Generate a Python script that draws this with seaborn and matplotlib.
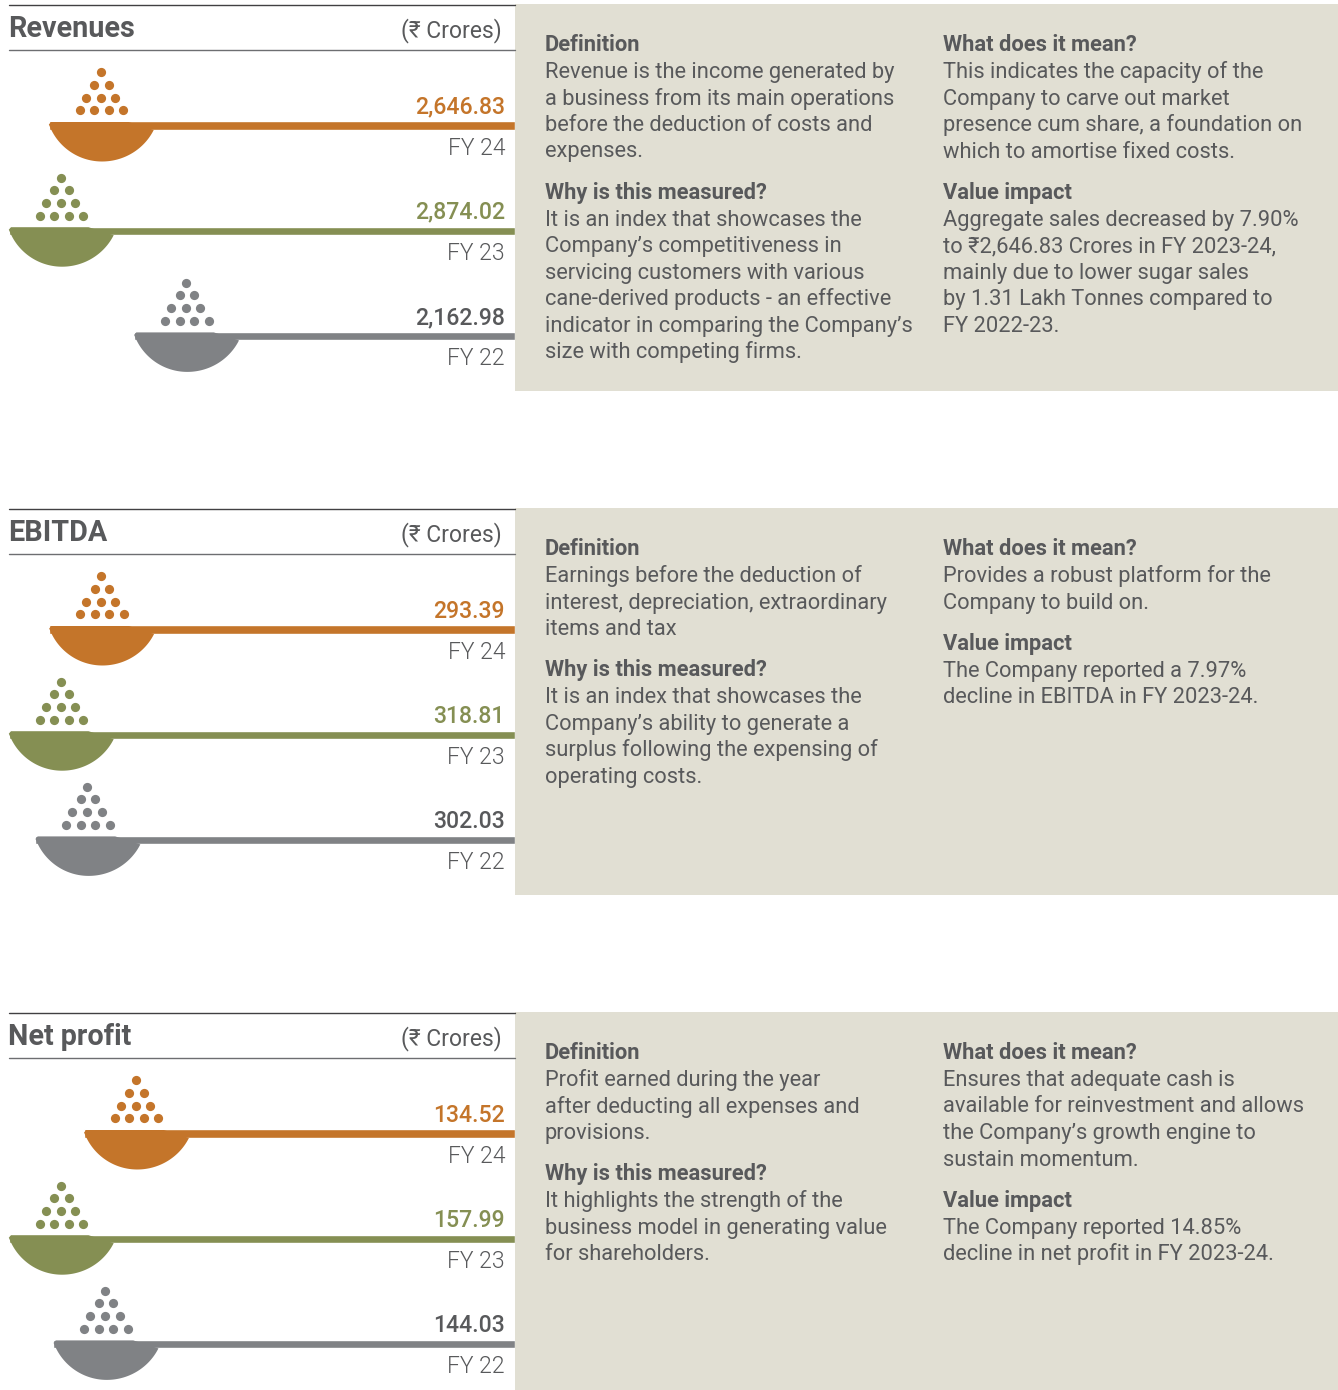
import numpy as np
import pandas as pd
import matplotlib.pyplot as plt
from matplotlib.patches import Polygon, Rectangle
import seaborn as sns

sns.set_style("white")
plt.rcParams['font.family'] = ['Roboto', 'DejaVu Sans']

years = ["FY 24", "FY 23", "FY 22"]
revenues = [2646.83, 2874.02, 2162.98]
ebitda = [293.39, 318.81, 302.03]
net_profit = [134.52, 157.99, 144.03]
revenues_txt = ["2,646.83", "2,874.02", "2,162.98"]
ebitda_txt = ["293.39", "318.81", "302.03"]
net_profit_txt = ["134.52", "157.99", "144.03"]
titles = ["Revenues", "EBITDA", "Net profit"]
unit = "(₹ Crores)"

revenues_left = [
    ("Definition", ["Revenue is the income generated by", "a business from its main operations",
                    "before the deduction of costs and", "expenses."]),
    ("Why is this measured?", ["It is an index that showcases the", "Company’s competitiveness in",
                               "servicing customers with various", "cane-derived products - an effective",
                               "indicator in comparing the Company’s", "size with competing firms."]),
]
revenues_right = [
    ("What does it mean?", ["This indicates the capacity of the", "Company to carve out market",
                            "presence cum share, a foundation on", "which to amortise fixed costs."]),
    ("Value impact", ["Aggregate sales decreased by 7.90%", "to ₹2,646.83 Crores in FY 2023-24,",
                      "mainly due to lower sugar sales", "by 1.31 Lakh Tonnes compared to", "FY 2022-23."]),
]
ebitda_left = [
    ("Definition", ["Earnings before the deduction of", "interest, depreciation, extraordinary",
                    "items and tax"]),
    ("Why is this measured?", ["It is an index that showcases the", "Company’s ability to generate a",
                               "surplus following the expensing of", "operating costs."]),
]
ebitda_right = [
    ("What does it mean?", ["Provides a robust platform for the", "Company to build on."]),
    ("Value impact", ["The Company reported a 7.97%", "decline in EBITDA in FY 2023-24."]),
]
net_left = [
    ("Definition", ["Profit earned during the year", "after deducting all expenses and", "provisions."]),
    ("Why is this measured?", ["It highlights the strength of the", "business model in generating value",
                               "for shareholders."]),
]
net_right = [
    ("What does it mean?", ["Ensures that adequate cash is", "available for reinvestment and allows",
                            "the Company’s growth engine to", "sustain momentum."]),
    ("Value impact", ["The Company reported 14.85%", "decline in net profit in FY 2023-24."]),
]

colors = ["#c4752a", "#858f53", "#808285"]
value_colors = ["#c4752a", "#858f53", "#58595b"]
text_col = "#58595b"
panel_col = "#e1dfd3"

W, H = 1338, 1390
fig = plt.figure(figsize=(W / 100, H / 100), dpi=100)

# overlay in pixels for text, spoons and dots
px = fig.add_axes([0, 0, 1, 1], zorder=5)
px.set_xlim(0, W)
px.set_ylim(H, 0)
px.axis("off")
px.patch.set_alpha(0)

# dot rows of the little pile, relative to the bar start and centre
dot_rows = [(-53.7, [52]), (-41, [45.7, 60]), (-28.3, [37, 52, 66.5]), (-15.7, [31, 45.7, 60, 74.7])]


def spoon(x0, yc, col):
    # bowl is a circle segment hanging from the bar, right side a little wider
    cx, cy, r = x0 + 53.5, yc - 21, 56.5
    a0 = np.arcsin(25 / r)
    a1 = np.arcsin(25 / r)
    t = np.linspace(np.pi - a0, a1, 80)
    pts = [(x0 + 2.5, yc - 4), (x0 + 0.3, yc - 1.5)]
    for a in t:
        dx = r * np.cos(a)
        if dx > 0:
            dx *= 1.02
        pts.append((cx + dx, cy + r * np.sin(a)))
    pts += [(x0 + 80, yc - 4)]
    px.add_patch(Polygon(pts, closed=True, fc=col, ec="none"))
    for dy, dxs in dot_rows:
        px.scatter([x0 + d for d in dxs], [yc + dy] * len(dxs), s=44, color=col, linewidths=0)


def text_block(x, top, blocks):
    y = top + 51
    for head, lines in blocks:
        px.text(x, y, head, fontsize=15.75, fontweight="bold", color=text_col, va="baseline")
        y += 26.5
        for line in lines:
            px.text(x, y + 0.5, line, fontsize=15.75, color=text_col, va="baseline")
            y += 26.5
        y += 15.3


panels = [
    (revenues, revenues_txt, revenues_left, revenues_right, 391),
    (ebitda, ebitda_txt, ebitda_left, ebitda_right, 895),
    (net_profit, net_profit_txt, net_left, net_right, 1390),
]

for k, (vals, labels, left, right, bottom) in enumerate(panels):
    off = 504 * k
    top = off
    # beige box
    px.add_patch(Rectangle((515, top + 4), W - 515, bottom - top - 4, fc=panel_col, ec="none"))

    # header
    px.plot([8.5, 515], [top + 4.5, top + 4.5], color="#414042", lw=1)
    px.plot([8.5, 515], [top + 50, top + 50], color="#6d6e71", lw=1)
    px.text(8.5, top + 37, titles[k], fontsize=20.7, fontweight="bold", color=text_col, va="baseline")
    px.text(502, top + 37.5, unit, fontsize=16.5, color=text_col, ha="right", va="baseline")

    # bars, 0 at the right and the biggest value reaching the left edge
    y_top = top + 126 - 52.6 - 0.6
    ax = fig.add_axes([8.5 / W, 1 - (y_top + 315.6) / H, 506.5 / W, 315.6 / H], zorder=2)
    df = pd.DataFrame({"year": years, "value": vals})
    sns.barplot(data=df, x="value", y="year", hue="year", palette=colors, order=years,
                hue_order=years, width=8.2 / 105.2, dodge=False, legend=False, saturation=1, ax=ax)
    ax.set_xlim(max(vals), 0)
    ax.set_ylim(2.5, -0.5)
    ax.axis("off")

    for i, v in enumerate(vals):
        yc = top + 126 + i * 105.2
        x0 = 8.5 + (max(vals) - v) / max(vals) * 506.5
        spoon(x0, yc, colors[i])
        px.text(505, yc - 12.5, labels[i], fontsize=16.6, fontweight=500, color=value_colors[i], ha="right", va="baseline")
        px.text(505, yc + 29, years[i], fontsize=16.5, fontweight=300, color=text_col, ha="right", va="baseline")

    text_block(545, top, left)
    text_block(943, top, right)

fig.savefig("out.png", dpi=100)
